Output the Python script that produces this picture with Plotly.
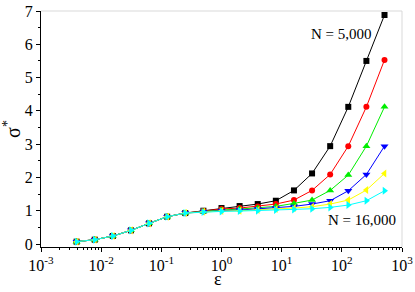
import plotly.graph_objects as go

eps = [2.0 ** k for k in range(-8, 10)]

low = [0.07, 0.13, 0.24, 0.41, 0.62, 0.82, 0.93]
s_5000 = low + [1.00, 1.08, 1.14, 1.20, 1.30, 1.61, 2.12, 2.94, 4.12, 5.50, 6.88]
s_red = low + [0.99, 1.05, 1.08, 1.13, 1.20, 1.32, 1.61, 2.09, 2.94, 4.12, 5.53]
s_green = low + [0.98, 1.02, 1.05, 1.08, 1.13, 1.22, 1.32, 1.61, 2.07, 2.94, 4.12]
s_blue = low + [0.97, 1.00, 1.02, 1.05, 1.08, 1.13, 1.20, 1.30, 1.60, 2.09, 2.94]
s_yellow = low + [0.97, 0.99, 1.00, 1.02, 1.05, 1.08, 1.12, 1.20, 1.32, 1.62, 2.12]
s_16000 = low + [0.96, 0.98, 0.99, 1.00, 1.02, 1.04, 1.06, 1.10, 1.17, 1.30, 1.60]

series = [
    (s_5000, "#000000", "square", 6),
    (s_red, "#ff0000", "circle", 6),
    (s_green, "#00ee00", "triangle-up", 7),
    (s_blue, "#0000ff", "triangle-down", 7),
    (s_yellow, "#ffff00", "triangle-left", 7),
    (s_16000, "#00ffff", "triangle-right", 7),
]

x_ticks = [1e-3, 1e-2, 1e-1, 1, 10, 100, 1000]
x_ticktext = ["10<sup>-3</sup>", "10<sup>-2</sup>", "10<sup>-1</sup>", "10<sup>0</sup>",
              "10<sup>1</sup>", "10<sup>2</sup>", "10<sup>3</sup>"]
y_ticks = [0, 1, 2, 3, 4, 5, 6, 7]

fig = go.Figure()
for ys, col, sym, sz in series:
    fig.add_trace(go.Scatter(
        x=eps, y=ys, mode="lines+markers",
        line=dict(color=col, width=1),
        marker=dict(symbol=sym, color=col, size=sz),
        showlegend=False, cliponaxis=False,
    ))

font_family = "Liberation Serif, Times New Roman, serif"

fig.update_layout(
    template="none",
    width=415, height=292,
    margin=dict(l=41, r=13, t=11, b=45, autoexpand=False),
    paper_bgcolor="white", plot_bgcolor="white",
    font=dict(family=font_family, color="black", size=16),
    xaxis=dict(
        type="log", range=[-3, 3], automargin=False,
        tickvals=x_ticks, ticktext=x_ticktext,
        showgrid=False, zeroline=False,
        showline=True, linecolor="black", linewidth=1,
        ticks="outside", ticklen=4, tickcolor="black",
        minor=dict(ticks="outside", ticklen=2, dtick="D1", tickcolor="black", showgrid=False),
        tickfont=dict(size=16),
        ticklabeloverflow="allow",
    ),
    yaxis=dict(
        range=[-0.09, 7], automargin=False,
        tickvals=y_ticks,
        showgrid=False, zeroline=False,
        showline=True, linecolor="black", linewidth=1,
        ticks="outside", ticklen=4, tickcolor="black",
        minor=dict(ticks="outside", ticklen=2, dtick=0.5, tickcolor="black", showgrid=False),
        tickfont=dict(size=16),
        ticklabeloverflow="allow",
        title=dict(text="σ<sup>*</sup>", font=dict(size=20), standoff=6),
    ),
)

fig.add_shape(type="line", xref="paper", yref="paper", x0=0, x1=1, y0=1, y1=1,
              line=dict(color="#d9d9d9", width=1))
fig.add_shape(type="line", xref="paper", yref="paper", x0=1, x1=1, y0=0, y1=1,
              line=dict(color="#d9d9d9", width=1))

fig.add_annotation(x=0.489, y=-0.184, xref="paper", yref="paper", text="ε",
                   showarrow=False, xanchor="center", yanchor="bottom",
                   borderpad=0, font=dict(size=18))
fig.add_annotation(x=2.53, y=6.3, xref="x", yref="y", text="N = 5,000",
                   showarrow=False, xanchor="right", font=dict(size=15))
fig.add_annotation(x=2.93, y=0.72, xref="x", yref="y", text="N = 16,000",
                   showarrow=False, xanchor="right", font=dict(size=15))

fig.write_html("out.html", config={"displayModeBar": False},
               post_script="document.body.style.margin='0';")
